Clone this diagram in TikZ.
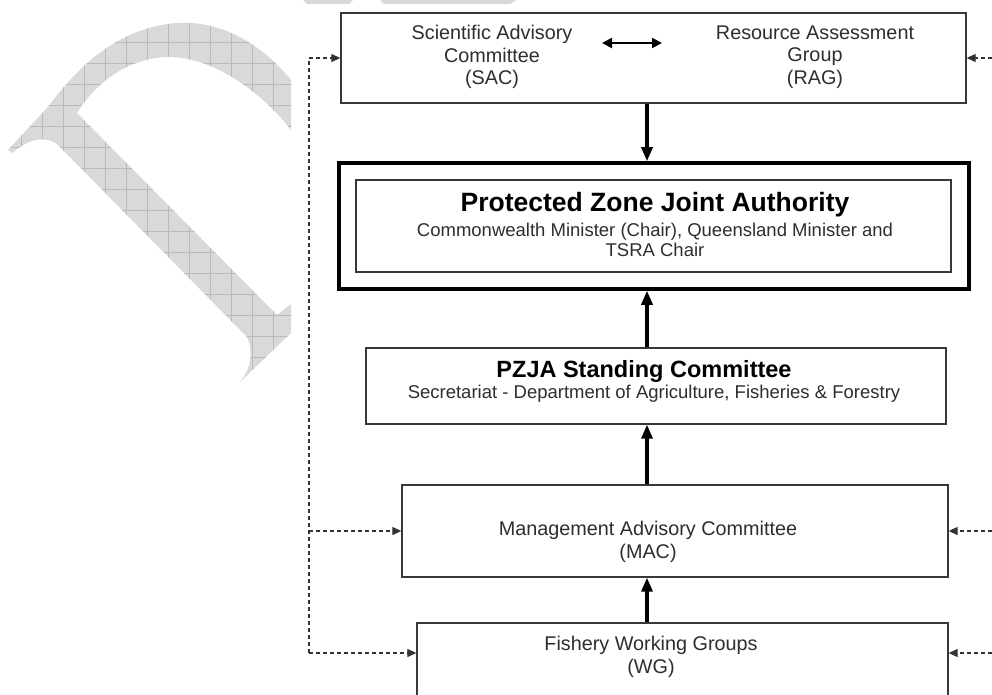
\documentclass[tikz,border=0pt]{standalone}
\usepackage{fontspec}
\setmainfont{Liberation Sans}
\usetikzlibrary{arrows.meta}
\def\Dpath{(8,150) -- (47,108) .. controls (70,78) and (110,28) .. (177,23) .. controls (225,20) and (265,48) .. (291,80) -- (291,130) .. controls (268,100) and (222,60) .. (173,57) .. controls (130,56) and (96,82) .. (77,113) -- (277,315) -- (291,304) -- (291,333) -- (240,382) .. controls (252,368) and (253,350) .. (247,337) -- (57,144) .. controls (45,136) and (30,138) .. (12,153) -- cycle}
\begin{document}
\begin{tikzpicture}[x=1pt,y=-1pt,
  box/.style={draw=black!78, line width=1.3pt, fill=white, inner sep=0pt},
  txt/.style={align=center, text=black!82, inner sep=0pt},
  norm/.style={font=\fontsize{19.8pt}{22.5pt}\selectfont},
  sub/.style={font=\fontsize{18.5pt}{19.5pt}\selectfont},
  thickarrow/.style={line width=3.2pt, -{Triangle[length=14pt,width=11pt]}},
  dasharrow/.style={line width=1.1pt, black!80, dash pattern=on 4pt off 3pt, -{Triangle[length=9pt,width=8pt]}},
  dashline/.style={line width=1.1pt, black!80, dash pattern=on 4pt off 3pt},
  dblarrow/.style={line width=2pt, {Triangle[length=10pt,width=10pt]}-{Triangle[length=10pt,width=10pt]}}
]
\useasboundingbox (0,0) rectangle (992,695);
% watermark
\fill[black!15] \Dpath;
\begin{scope}
  \clip \Dpath;
  \foreach \i in {0,21,...,420} {
    \draw[black!27, line width=0.5pt] (\i,0) -- (\i,400);
    \draw[black!27, line width=0.5pt] (0,\i) -- (300,\i);
  }
\end{scope}
\fill[black!15] (303,0) -- (353,0) -- (349,4) -- (307,4) -- cycle;
\fill[black!15] (380,0) -- (517,0) -- (510,4) -- (384,4) -- cycle;

% boxes
\node[box, minimum width=625pt, minimum height=90pt] (top) at (653.5,58) {};
\node[box, draw=black, line width=3.5pt, minimum width=630pt, minimum height=126pt] (pzja) at (654,226) {};
\node[box, minimum width=595pt, minimum height=92pt] (pzjain) at (653.5,226) {};
\node[box, minimum width=580pt, minimum height=76pt] (stand) at (656,386) {};
\node[box, minimum width=546pt, minimum height=92pt] (mac) at (675,531) {};
\node[box, minimum width=531pt, minimum height=87pt] (wg) at (682.5,666.5) {};

% texts
\node[txt, norm] (sac) at (492,57) {Scientific Advisory\\Committee\\(SAC)};
\node[txt, norm] (rag) at (815,57) {Resource Assessment\\Group\\(RAG)};
\node[txt, text=black, font=\bfseries\fontsize{26.5pt}{28pt}\selectfont] (pzjat) at (655,205) {Protected Zone Joint Authority};
\node[txt, sub] (pzjas) at (655,240) {Commonwealth Minister (Chair), Queensland Minister and\\TSRA Chair};
\node[txt, text=black, font=\bfseries\fontsize{23.5pt}{25pt}\selectfont] (standt) at (644,371) {PZJA Standing Committee};
\node[txt, sub] (stands) at (654,394) {Secretariat - Department of Agriculture, Fisheries \& Forestry};
\node[txt, norm] (mact) at (648,542) {Management Advisory Committee\\(MAC)};
\node[txt, norm] (wgt) at (651,657) {Fishery Working Groups\\(WG)};

% double arrow
\coordinate (dl) at (602,43);
\coordinate (dr) at (662,43);
\draw[dblarrow] (dl) -- (dr);

% thick arrows
\coordinate (ax) at (647,0);
\draw[thickarrow] (top.south -| ax) -- (pzja.north -| ax);
\draw[thickarrow] (stand.north -| ax) -- (pzja.south -| ax);
\draw[thickarrow] (mac.north -| ax) -- (stand.south -| ax);
\draw[thickarrow] (wg.north -| ax) -- (mac.south -| ax);

% dashed feedback
\coordinate (L1) at (309,58);
\coordinate (L2) at (309,531);
\coordinate (L3) at (309,653);
\coordinate (R1) at (992,58);
\coordinate (R2) at (992,531);
\coordinate (R3) at (992,653);
\draw[dashline] (L3) -- (L1);
\draw[dasharrow] (L1) -- (top.west);
\draw[dasharrow] (L2) -- (mac.west);
\draw[dasharrow] (L3) -- (wg.west |- L3);
\draw[dasharrow] (R1) -- (top.east);
\draw[dasharrow] (R2) -- (mac.east);
\draw[dasharrow] (R3) -- (wg.east |- R3);
\end{tikzpicture}
\end{document}
